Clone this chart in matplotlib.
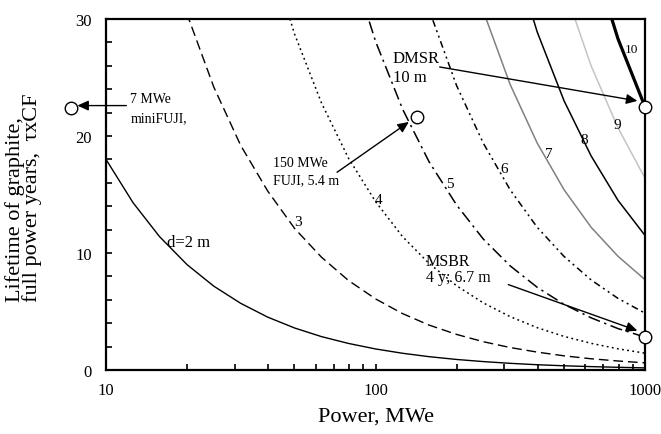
import numpy as np
import matplotlib
matplotlib.use("Agg")
import matplotlib.pyplot as plt
from matplotlib.ticker import FixedLocator, NullFormatter, FixedFormatter

plt.rcParams['font.family'] = ['Liberation Serif', 'DejaVu Serif']

nan = np.nan
# Power grid (MWe)
power = [10, 12.6, 15.8, 20, 25.1, 31.6, 39.8, 50.1, 63.1, 79.4, 100, 126, 158,
         200, 251, 316, 398, 501, 631, 794, 1000]

# Lifetime (full power years) read for each core diameter d (m)
life_d2 = [18.0, 14.3, 11.4, 9.0, 7.17, 5.70, 4.52, 3.59, 2.85, 2.27, 1.80, 1.43,
           1.14, 0.90, 0.72, 0.57, 0.45, 0.36, 0.29, 0.23, 0.18]
life_d3 = [nan, nan, 38.4, 30.4, 24.2, 19.2, 15.3, 12.1, 9.63, 7.65, 6.08, 4.82,
           3.84, 3.04, 2.42, 1.92, 1.53, 1.21, 0.96, 0.77, 0.61]
life_d4 = [nan, nan, nan, nan, nan, nan, 36.2, 28.7, 22.8, 18.1, 14.4, 11.4,
           9.11, 7.2, 5.74, 4.56, 3.62, 2.87, 2.28, 1.81, 1.44]
life_d5 = [nan, nan, nan, nan, nan, nan, nan, nan, nan, 35.4, 28.1, 22.3,
           17.8, 14.1, 11.2, 8.90, 7.07, 5.61, 4.46, 3.54, 2.81]
life_d6 = [nan, nan, nan, nan, nan, nan, nan, nan, nan, nan, nan, 38.6,
           30.8, 24.3, 19.4, 15.4, 12.2, 9.70, 7.70, 6.12, 4.86]
life_d7 = [nan, nan, nan, nan, nan, nan, nan, nan, nan, nan, nan, nan,
           nan, 38.6, 30.7, 24.4, 19.4, 15.4, 12.2, 9.72, 7.72]
life_d8 = [nan, nan, nan, nan, nan, nan, nan, nan, nan, nan, nan, nan,
           nan, nan, nan, 36.5, 28.9, 23.0, 18.3, 14.5, 11.5]
life_d9 = [nan, nan, nan, nan, nan, nan, nan, nan, nan, nan, nan, nan,
           nan, nan, nan, nan, nan, 32.7, 26.0, 20.7, 16.4]
life_d10 = [nan, nan, nan, nan, nan, nan, nan, nan, nan, nan, nan, nan,
            nan, nan, nan, nan, nan, nan, 35.7, 28.3, 22.5]

curve_labels = ["d=2 m", "3", "4", "5", "6", "7", "8", "9", "10"]
label_x = [16.8, 50.0, 99.6, 183, 290, 426, 574, 762, 843]
label_y = [10.97, 12.7, 14.6, 15.9, 17.2, 18.5, 19.7, 21.0, 27.4]

# reactor points
pt_names = ["miniFUJI", "FUJI", "DMSR", "MSBR"]
pt_power = [7.4, 142, 1000, 1000]
pt_life = [22.4, 21.6, 22.45, 2.85]

x_ticks = [10, 100, 1000]
x_tick_labels = ["10", "100", "1000"]
y_ticks = [0, 10, 20, 30]

fig = plt.figure(figsize=(6.61, 4.35), dpi=100)
ax = fig.add_axes([106/661, 1-371/435, (645-106)/661, (371-20)/435])

series = [life_d2, life_d3, life_d4, life_d5, life_d6, life_d7, life_d8, life_d9, life_d10]
styles = [
    dict(color='black', lw=1.0, ls='-'),
    dict(color='black', lw=1.0, ls=(0, (7, 3.5))),
    dict(color='black', lw=1.1, ls=(0, (1.2, 2.2))),
    dict(color='black', lw=1.1, ls=(0, (8, 3, 1.5, 3))),
    dict(color='black', lw=1.1, ls=(0, (4.5, 2.5, 1.3, 2.5, 1.3, 2.5))),
    dict(color='#808080', lw=1.1, ls='-'),
    dict(color='black', lw=1.1, ls='-'),
    dict(color='#c4c4c4', lw=1.1, ls='-'),
    dict(color='black', lw=2.3, ls='-'),
]
for s, st in zip(series, styles):
    ax.plot(power, s, **st)

sizes = [12, 11, 11, 11, 11, 11, 11, 11, 9.5]
for lab, lx, ly, fs in zip(curve_labels, label_x, label_y, sizes):
    ax.text(lx, ly, lab, fontsize=fs, ha='left', va='center')

ax.set_xscale('log')
ax.set_xlim(10, 1000)
ax.set_ylim(0, 30)

ax.xaxis.set_major_locator(FixedLocator(x_ticks))
ax.xaxis.set_major_formatter(FixedFormatter(x_tick_labels))
minor_x = [m * 10**e for e in (1, 2) for m in range(2, 10)]
ax.xaxis.set_minor_locator(FixedLocator(minor_x))
ax.xaxis.set_minor_formatter(NullFormatter())
ax.yaxis.set_major_locator(FixedLocator(y_ticks))
ax.yaxis.set_minor_locator(FixedLocator(list(range(0, 31, 2))))

ax.tick_params(axis='both', which='both', direction='in', width=1.2, labelsize=12)
ax.tick_params(axis='both', which='major', length=4)
ax.tick_params(axis='both', which='minor', length=4)
ax.tick_params(axis='x', which='major', pad=9)
ax.tick_params(axis='y', which='major', pad=10)
for sp in ax.spines.values():
    sp.set_linewidth(1.6)

ax.set_xlabel("Power, MWe", fontsize=16, labelpad=6)
ylab = ax.set_ylabel("Lifetime of graphite,\nfull power years,  \u03c4xCF", fontsize=16,
                     multialignment='left', va='center', linespacing=0.85)
ax.yaxis.set_label_coords(-0.153, 0.494)

# markers
ax.plot(pt_power, pt_life, 'o', ms=9, mfc='white', mec='black', mew=1.0,
        clip_on=False, zorder=5, ls='none')

arrow_kw = dict(arrowstyle='-|>,head_length=0.55,head_width=0.25', color='black',
                lw=1.0, mutation_scale=12, shrinkA=0, shrinkB=0)

# miniFUJI
ax.text(12.3, 23.2, "7 MWe", fontsize=10, ha='left', va='center')
ax.text(12.3, 21.6, "miniFUJI,", fontsize=10, ha='left', va='center')
ax.annotate("", xy=(7.83, 22.6), xytext=(11.9, 22.6), arrowprops=arrow_kw,
            annotation_clip=False)
# FUJI
ax.text(41.8, 17.74, "150 MWe", fontsize=10, ha='left', va='center')
ax.text(41.8, 16.3, "FUJI, 5.4 m", fontsize=10, ha='left', va='center')
ax.annotate("", xy=(133, 21.2), xytext=(72, 16.9), arrowprops=arrow_kw)
# DMSR
ax.text(116, 26.7, "DMSR", fontsize=12, ha='left', va='center')
ax.text(116, 25.0, "10 m", fontsize=12, ha='left', va='center')
ax.annotate("", xy=(937, 23.0), xytext=(173, 25.9), arrowprops=arrow_kw)
# MSBR
ax.text(154, 9.3, "MSBR", fontsize=11.5, ha='left', va='center')
ax.text(154, 7.95, "4 y; 6.7 m", fontsize=11.5, ha='left', va='center')
ax.annotate("", xy=(937, 3.36), xytext=(311, 7.3), arrowprops=arrow_kw)

fig.savefig("out.png", dpi=100)
